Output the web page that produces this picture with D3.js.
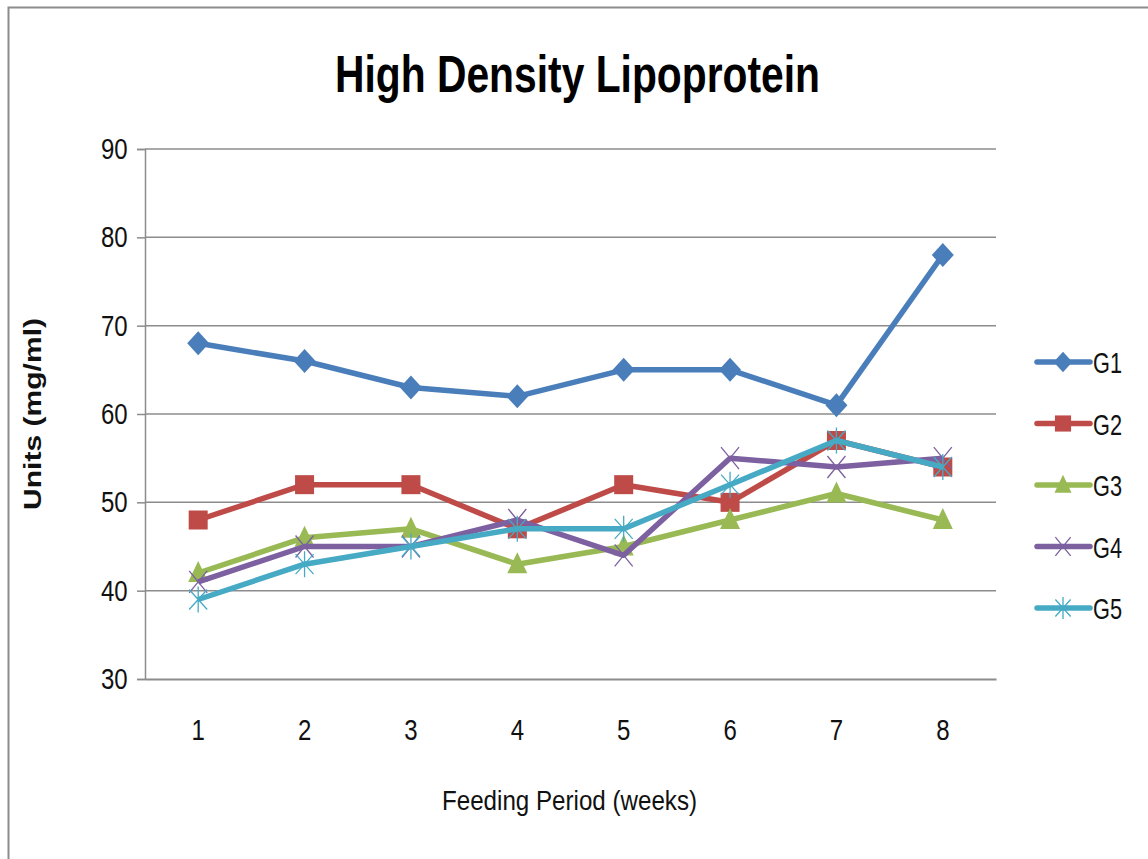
<!DOCTYPE html>
<html>
<head>
<meta charset="utf-8">
<script src="https://cdn.jsdelivr.net/npm/d3@7"></script>
<style>
  body { margin: 0; background: #fff; }
  text { font-family: "Liberation Sans", Arial, sans-serif; }
  .narrow { transform-box: fill-box; transform-origin: center; transform: scaleX(0.8); }
</style>
</head>
<body>
<div id="chart"></div>
<script>
var width = 1148;
var height = 859;

// data
var weeks = [1, 2, 3, 4, 5, 6, 7, 8];
var yTicks = [30, 40, 50, 60, 70, 80, 90];
var seriesNames = ["G1", "G2", "G3", "G4", "G5"];
var g1 = [68, 66, 63, 62, 65, 65, 61, 78];
var g2 = [48, 52, 52, 47, 52, 50, 57, 54];
var g3 = [42, 46, 47, 43, 45, 48, 51, 48];
var g4 = [41, 45, 45, 48, 44, 55, 54, 55];
var g5 = [39, 43, 45, 47, 47, 52, 57, 54];
var colors = ["#4a7ebb", "#be4b48", "#98b954", "#7d60a0", "#46aac5"];
var symbols = ["diamond", "square", "triangle", "cross", "star"];

var allSeries = [g1, g2, g3, g4, g5].map(function(v, i) {
  return { name: seriesNames[i], values: v, color: colors[i], sym: symbols[i] };
});

var svg = d3.select("#chart").append("svg")
  .attr("width", width)
  .attr("height", height);

// outer frame
svg.append("path")
  .attr("d", "M8.5,859 L8.5,7.5 L1148,7.5")
  .attr("fill", "none")
  .attr("stroke", "#8c8c8c")
  .attr("stroke-width", 2);

var plotL = 145, plotR = 996, plotT = 149, plotB = 679;

var x = d3.scaleBand().domain(weeks).range([plotL, plotR]);
var y = d3.scaleLinear().domain([30, 90]).range([plotB, plotT]);

// gridlines
svg.append("g").selectAll("line")
  .data(yTicks.slice(1))
  .enter().append("line")
  .attr("x1", plotL).attr("x2", plotR)
  .attr("y1", function(d) { return y(d); })
  .attr("y2", function(d) { return y(d); })
  .attr("stroke", "#8c8c8c")
  .attr("stroke-width", 1.5);

// y axis
var yAxis = svg.append("g")
  .attr("transform", "translate(" + plotL + ",0)")
  .call(d3.axisLeft(y).tickValues(yTicks).tickSize(8).tickPadding(10));
yAxis.select(".domain").attr("stroke", "#8c8c8c").attr("stroke-width", 1.5);
yAxis.selectAll(".tick line").attr("stroke", "#8c8c8c").attr("stroke-width", 1.5);
yAxis.selectAll("text")
  .attr("class", "narrow")
  .attr("font-size", 30).attr("fill", "#111")
  .attr("font-family", "'Liberation Sans', Arial, sans-serif")
  .attr("x", -14);

// x axis
var xAxis = svg.append("g")
  .attr("transform", "translate(0," + plotB + ")")
  .call(d3.axisBottom(x).tickSize(0).tickPadding(40));
xAxis.select(".domain").attr("stroke", "#8c8c8c").attr("stroke-width", 2);
xAxis.selectAll("text")
  .attr("class", "narrow")
  .attr("font-size", 30).attr("fill", "#111")
  .attr("font-family", "'Liberation Sans', Arial, sans-serif");

function cx(i) { return x(weeks[i]) + x.bandwidth() / 2; }

function drawMarker(sel, s, px, py, scale) {
  var k = scale || 1;
  var c = s.color;
  if (s.sym === "diamond") {
    sel.append("path")
      .attr("d", "M" + px + "," + (py - 12 * k) + " L" + (px + 11 * k) + "," + py + " L" + px + "," + (py + 12 * k) + " L" + (px - 11 * k) + "," + py + "Z")
      .attr("fill", c);
  } else if (s.sym === "square") {
    sel.append("rect")
      .attr("x", px - 9.5 * k).attr("y", py - 9.5 * k)
      .attr("width", 19 * k).attr("height", 19 * k)
      .attr("fill", c);
  } else if (s.sym === "triangle") {
    sel.append("path")
      .attr("d", "M" + px + "," + (py - 12 * k) + " L" + (px + 10 * k) + "," + (py + 9 * k) + " L" + (px - 10 * k) + "," + (py + 9 * k) + "Z")
      .attr("fill", c);
  } else if (s.sym === "cross") {
    sel.append("path")
      .attr("d", "M" + (px - 9 * k) + "," + (py - 11 * k) + " L" + (px + 9 * k) + "," + (py + 11 * k) +
                 " M" + (px + 9 * k) + "," + (py - 11 * k) + " L" + (px - 9 * k) + "," + (py + 11 * k))
      .attr("stroke", c).attr("stroke-width", 1.3).attr("fill", "none");
  } else {
    sel.append("path")
      .attr("d", "M" + (px - 9 * k) + "," + (py - 10 * k) + " L" + (px + 9 * k) + "," + (py + 10 * k) +
                 " M" + (px + 9 * k) + "," + (py - 10 * k) + " L" + (px - 9 * k) + "," + (py + 10 * k) +
                 " M" + px + "," + (py - 13 * k) + " L" + px + "," + (py + 13 * k))
      .attr("stroke", c).attr("stroke-width", 1.3).attr("fill", "none");
  }
}

var line = d3.line()
  .x(function(d, i) { return cx(i); })
  .y(function(d) { return y(d); });

allSeries.forEach(function(s) {
  var gs = svg.append("g");
  gs.append("path")
    .datum(s.values)
    .attr("d", line)
    .attr("fill", "none")
    .attr("stroke", s.color)
    .attr("stroke-width", 5.5)
    .attr("stroke-linejoin", "round");
  s.values.forEach(function(v, i) {
    drawMarker(gs, s, cx(i), y(v));
  });
});

// legend
var legend = svg.append("g");
allSeries.forEach(function(s, i) {
  var ly = 362 + i * 61.5;
  legend.append("line")
    .attr("x1", 1037).attr("x2", 1090)
    .attr("y1", ly).attr("y2", ly)
    .attr("stroke", s.color).attr("stroke-width", 5.5)
    .attr("stroke-linecap", "round");
  drawMarker(legend, s, 1063, ly, 0.85);
  legend.append("text")
    .attr("x", 1093).attr("y", ly + 11)
    .attr("font-size", 30).attr("fill", "#111")
    .attr("textLength", 29).attr("lengthAdjust", "spacingAndGlyphs")
    .text(s.name);
});

// title
svg.append("text")
  .attr("x", 335).attr("y", 92)
  .attr("font-size", 52).attr("font-weight", "bold").attr("fill", "#000")
  .attr("textLength", 485).attr("lengthAdjust", "spacingAndGlyphs")
  .text("High Density Lipoprotein");

// axis titles
svg.append("text")
  .attr("x", 442).attr("y", 810)
  .attr("font-size", 28).attr("fill", "#111")
  .attr("textLength", 255).attr("lengthAdjust", "spacingAndGlyphs")
  .text("Feeding Period (weeks)");

svg.append("text")
  .attr("transform", "translate(41,510) rotate(-90)")
  .attr("font-size", 24).attr("font-weight", "bold").attr("fill", "#111")
  .attr("textLength", 192).attr("lengthAdjust", "spacingAndGlyphs")
  .text("Units (mg/ml)");
</script>
</body>
</html>
